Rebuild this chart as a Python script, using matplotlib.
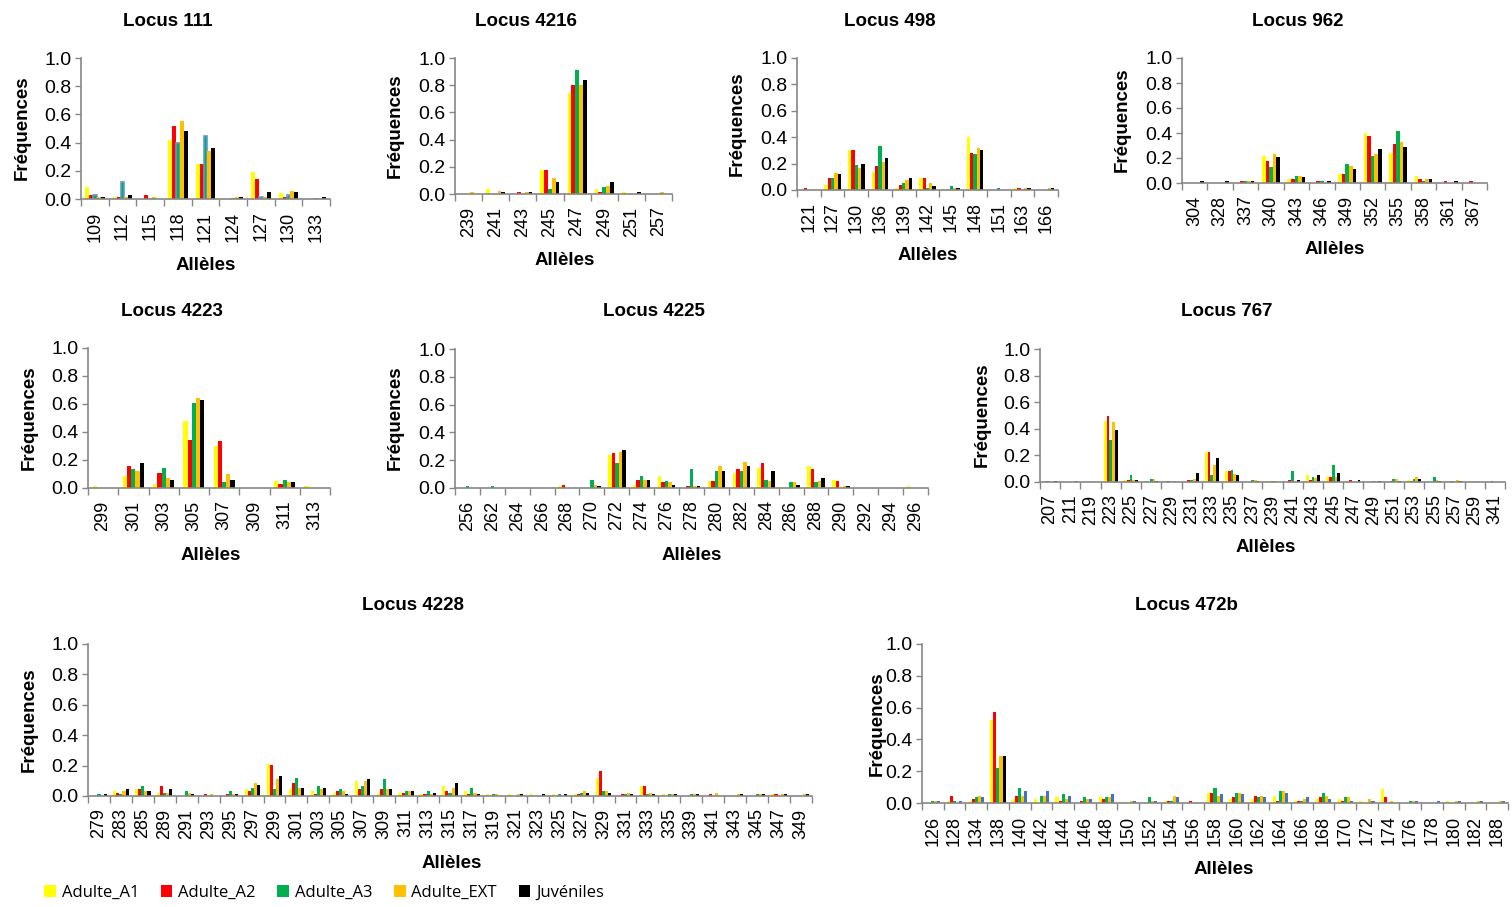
import numpy as np
import matplotlib
matplotlib.use("Agg")
import matplotlib.pyplot as plt
from matplotlib.patches import Patch
from matplotlib.ticker import FormatStrFormatter

# ---------------- data ----------------
series_names = ["Adulte_A1", "Adulte_A2", "Adulte_A3", "Adulte_EXT", "Juvéniles"]

l111_alleles = ["109", "112", "115", "118", "121", "124", "127", "130", "133"]
l111_a1 = [0.085, 0.012, 0, 0.42, 0.25, 0, 0.19, 0.04, 0]
l111_a2 = [0.025, 0.012, 0.025, 0.515, 0.25, 0, 0.145, 0.012, 0]
l111_a3 = [0.025, 0.12, 0, 0.40, 0.445, 0, 0.012, 0.025, 0]
l111_ext = [0.012, 0.012, 0.012, 0.55, 0.34, 0.012, 0.012, 0.06, 0]
l111_juv = [0.012, 0.025, 0, 0.48, 0.365, 0.012, 0.05, 0.05, 0.012]

l4216_alleles = ["239", "241", "243", "245", "247", "249", "251", "257"]
l4216_a1 = [0, 0.035, 0, 0.18, 0.74, 0.035, 0.012, 0]
l4216_a2 = [0, 0, 0.012, 0.18, 0.80, 0.012, 0, 0]
l4216_a3 = [0, 0, 0, 0.035, 0.91, 0.05, 0, 0]
l4216_ext = [0.012, 0.025, 0.012, 0.12, 0.80, 0.06, 0, 0.012]
l4216_juv = [0, 0.012, 0.012, 0.085, 0.84, 0.085, 0.012, 0]

l498_alleles = ["121", "127", "130", "136", "139", "142", "145", "148", "151", "163", "166"]
l498_a1 = [0, 0.04, 0.30, 0.14, 0.012, 0.09, 0, 0.405, 0, 0.012, 0]
l498_a2 = [0.012, 0.09, 0.30, 0.18, 0.04, 0.09, 0, 0.28, 0, 0.012, 0]
l498_a3 = [0, 0.09, 0.19, 0.33, 0.05, 0.012, 0.03, 0.27, 0.012, 0, 0]
l498_ext = [0, 0.13, 0.17, 0.215, 0.075, 0.05, 0.012, 0.32, 0, 0.012, 0.012]
l498_juv = [0, 0.12, 0.20, 0.24, 0.09, 0.03, 0.012, 0.305, 0, 0.012, 0.012]

l962_alleles = ["304", "328", "337", "340", "343", "346", "349", "352", "355", "358", "361", "367"]
l962_a1 = [0, 0, 0, 0.22, 0.03, 0, 0.07, 0.40, 0.24, 0.06, 0, 0]
l962_a2 = [0, 0, 0.015, 0.175, 0.03, 0.015, 0.07, 0.375, 0.31, 0.03, 0.015, 0.015]
l962_a3 = [0, 0, 0.015, 0.125, 0.06, 0.015, 0.15, 0.215, 0.415, 0.015, 0, 0]
l962_ext = [0, 0, 0.015, 0.23, 0.06, 0, 0.14, 0.23, 0.325, 0.03, 0, 0]
l962_juv = [0.015, 0.015, 0.015, 0.205, 0.045, 0.015, 0.11, 0.27, 0.285, 0.03, 0.015, 0]

l4223_alleles = ["299", "301", "303", "305", "307", "309", "311", "313"]
l4223_a1 = [0.012, 0.085, 0.025, 0.475, 0.30, 0, 0.05, 0.012]
l4223_a2 = [0, 0.16, 0.11, 0.345, 0.335, 0, 0.025, 0]
l4223_a3 = [0, 0.135, 0.145, 0.605, 0.04, 0, 0.06, 0]
l4223_ext = [0, 0.12, 0.07, 0.64, 0.10, 0.003, 0.04, 0]
l4223_juv = [0.003, 0.18, 0.06, 0.625, 0.06, 0, 0.04, 0.003]

l4225_alleles = ["256", "262", "264", "266", "268", "270", "272", "274", "276", "278",
                 "280", "282", "284", "286", "288", "290", "292", "294", "296"]
l4225_a1 = [0, 0, 0, 0, 0.012, 0, 0.24, 0.025, 0.085, 0, 0.05, 0.11, 0.145, 0, 0.155, 0.06, 0, 0, 0.012]
l4225_a2 = [0.003, 0.003, 0, 0, 0.025, 0.003, 0.25, 0.06, 0.04, 0.012, 0.05, 0.135, 0.18, 0.003, 0.135, 0.05, 0.003, 0.003, 0]
l4225_a3 = [0.015, 0.015, 0, 0, 0, 0.06, 0.18, 0.085, 0.05, 0.135, 0.12, 0.12, 0.06, 0.04, 0.04, 0, 0, 0, 0]
l4225_ext = [0, 0, 0, 0, 0.003, 0.025, 0.26, 0.06, 0.04, 0.012, 0.155, 0.19, 0.05, 0.04, 0.05, 0.012, 0, 0, 0]
l4225_juv = [0.003, 0.003, 0.003, 0.003, 0.003, 0.012, 0.275, 0.06, 0.025, 0.012, 0.12, 0.155, 0.12, 0.025, 0.07, 0.012, 0.003, 0.003, 0.003]

l767_alleles = ["207", "211", "219", "223", "225", "227", "229", "231", "233", "235", "237", "239",
                "241", "243", "245", "247", "249", "251", "253", "255", "257", "259", "341"]
l767_a1 = [0.005, 0, 0, 0.46, 0.012, 0.005, 0.005, 0, 0.225, 0.08, 0, 0.005, 0, 0.055, 0.04, 0.005, 0, 0, 0.012, 0, 0, 0.005, 0]
l767_a2 = [0.005, 0, 0, 0.50, 0.012, 0, 0.005, 0.012, 0.225, 0.08, 0, 0, 0.012, 0.012, 0.04, 0.012, 0, 0.005, 0.005, 0, 0.005, 0, 0.005]
l767_a3 = [0, 0, 0, 0.315, 0.055, 0.025, 0, 0.012, 0.05, 0.09, 0.012, 0.005, 0.08, 0.04, 0.13, 0, 0.005, 0.025, 0.025, 0.04, 0, 0, 0]
l767_ext = [0, 0, 0.005, 0.45, 0.012, 0.025, 0.005, 0.025, 0.13, 0.06, 0.012, 0.005, 0, 0.03, 0.04, 0, 0, 0.025, 0.04, 0.012, 0.012, 0.005, 0]
l767_juv = [0.005, 0.005, 0, 0.39, 0.012, 0.005, 0, 0.065, 0.18, 0.055, 0.005, 0, 0.012, 0.055, 0.065, 0.012, 0.005, 0.005, 0.025, 0.005, 0.005, 0, 0]

l4228_alleles = ["279", "283", "285", "289", "291", "293", "295", "297", "299", "301", "303",
                 "305", "307", "309", "311", "313", "315", "317", "319", "321", "323", "325",
                 "327", "329", "331", "333", "335", "339", "341", "343", "345", "347", "349"]
l4228_a1 = [0, 0.03, 0.045, 0.02, 0, 0, 0, 0.045, 0.21, 0.045, 0.03, 0.02, 0.10, 0.02, 0.02, 0.012, 0.065,
            0.03, 0.012, 0.012, 0.012, 0.012, 0.012, 0.12, 0, 0.065, 0.012, 0, 0, 0, 0, 0.012, 0]
l4228_a2 = [0, 0.02, 0.045, 0.065, 0, 0.012, 0.012, 0.03, 0.205, 0.085, 0.012, 0.03, 0.045, 0.045, 0.02, 0.012, 0.03,
            0.012, 0, 0, 0, 0, 0.012, 0.165, 0.012, 0.065, 0, 0, 0.012, 0, 0, 0.012, 0]
l4228_a3 = [0.012, 0.012, 0.065, 0.02, 0.03, 0, 0.03, 0.055, 0.045, 0.12, 0.065, 0.045, 0.065, 0.11, 0.03, 0.03, 0.02,
            0.05, 0.012, 0, 0, 0.012, 0.02, 0.03, 0.012, 0.012, 0.012, 0.012, 0, 0, 0.012, 0, 0]
l4228_ext = [0, 0.03, 0.03, 0.02, 0.02, 0.012, 0.012, 0.085, 0.11, 0.055, 0.045, 0.03, 0.10, 0.045, 0.03, 0.012, 0.05,
             0.02, 0.012, 0.012, 0, 0, 0.03, 0.03, 0.02, 0.02, 0.012, 0.012, 0.02, 0.012, 0.012, 0.012, 0.012]
l4228_juv = [0.012, 0.045, 0.03, 0.045, 0.012, 0, 0.012, 0.075, 0.13, 0.055, 0.055, 0.012, 0.11, 0.045, 0.03, 0.02, 0.085,
             0.012, 0, 0.012, 0.012, 0.012, 0.02, 0.02, 0.012, 0.012, 0.012, 0.012, 0, 0.012, 0.012, 0.012, 0.012]

l472b_alleles = ["126", "128", "134", "138", "140", "142", "144", "146", "148", "150", "152", "154", "156", "158",
                 "160", "162", "164", "166", "168", "170", "172", "174", "176", "178", "180", "182", "188"]
l472b_a1 = [0, 0.012, 0.012, 0.52, 0.025, 0.025, 0.035, 0, 0.035, 0, 0, 0.012, 0, 0.065, 0.025, 0.025, 0.045,
            0.012, 0.025, 0.025, 0.012, 0.085, 0, 0, 0.012, 0, 0]
l472b_a2 = [0, 0.045, 0.025, 0.57, 0.045, 0, 0.012, 0.012, 0.025, 0, 0, 0.012, 0.012, 0.065, 0.035, 0.045, 0.012,
            0.012, 0.035, 0.012, 0, 0.035, 0, 0, 0, 0, 0]
l472b_a3 = [0.012, 0.012, 0.035, 0.22, 0.095, 0.045, 0.055, 0.035, 0.035, 0, 0.035, 0.012, 0, 0.095, 0.065, 0.035, 0.075,
            0.012, 0.065, 0.035, 0, 0, 0.012, 0, 0, 0, 0]
l472b_ext = [0.012, 0, 0.045, 0.295, 0.045, 0.045, 0.025, 0.025, 0.035, 0.012, 0.012, 0.045, 0, 0.045, 0.065, 0.045, 0.075,
             0.025, 0.045, 0.035, 0.025, 0.012, 0.012, 0, 0.012, 0.012, 0.012]
l472b_juv = [0.012, 0.012, 0.035, 0.295, 0.075, 0.075, 0.045, 0.025, 0.055, 0.012, 0.012, 0.035, 0, 0.055, 0.055, 0.035, 0.065,
             0.035, 0.025, 0.012, 0.012, 0, 0.012, 0.012, 0.012, 0.012, 0.012]

# ---------------- styling / layout ----------------
W, H = 1512, 907
COLORS = ["#FFFF00", "#FF0000", "#00B050", "#FFC000", "#000000"]
GRAY = "#868686"
BLUE = "#4472C4"
FONT = "Liberation Sans"

panels = [
    # title, alleles, series, axes px (x0, y0, x1, y1), title px, xlabel px, ylabel px
    ("Locus 111", l111_alleles, [l111_a1, l111_a2, l111_a3, l111_ext, l111_juv],
     (81, 58, 330, 199), (168, 21), (206, 266), (22, 128)),
    ("Locus 4216", l4216_alleles, [l4216_a1, l4216_a2, l4216_a3, l4216_ext, l4216_juv],
     (455, 58, 672, 194), (526, 21), (565, 260), (395, 126)),
    ("Locus 498", l498_alleles, [l498_a1, l498_a2, l498_a3, l498_ext, l498_juv],
     (797, 58, 1058, 190), (890, 21), (928, 256), (737, 124)),
    ("Locus 962", l962_alleles, [l962_a1, l962_a2, l962_a3, l962_ext, l962_juv],
     (1182, 58, 1487, 183), (1298, 21), (1335, 249), (1122, 120)),
    ("Locus 4223", l4223_alleles, [l4223_a1, l4223_a2, l4223_a3, l4223_ext, l4223_juv],
     (88, 348, 330, 488), (172, 311), (211, 555), (29, 418)),
    ("Locus 4225", l4225_alleles, [l4225_a1, l4225_a2, l4225_a3, l4225_ext, l4225_juv],
     (455, 349, 928, 488), (654, 312), (692, 555), (395, 418)),
    ("Locus 767", l767_alleles, [l767_a1, l767_a2, l767_a3, l767_ext, l767_juv],
     (1040, 349, 1505, 482), (1227, 311), (1266, 548), (982, 415)),
    ("Locus 4228", l4228_alleles, [l4228_a1, l4228_a2, l4228_a3, l4228_ext, l4228_juv],
     (88, 644, 812, 796), (413, 606), (452, 863), (29, 720)),
    ("Locus 472b", l472b_alleles, [l472b_a1, l472b_a2, l472b_a3, l472b_ext, l472b_juv],
     (922, 644, 1508, 803), (1186, 606), (1224, 869), (877, 724)),
]

fig = plt.figure(figsize=(W / 100, H / 100), dpi=100)

BW = 0.14
for title, alleles, series, (x0, y0, x1, y1), tpos, xlpos, ylpos in panels:
    ax = fig.add_axes([x0 / W, 1 - y1 / H, (x1 - x0) / W, (y1 - y0) / H])
    n = len(alleles)
    x = np.arange(n)
    for i, vals in enumerate(series):
        col = [COLORS[i]] * n
        kw = dict(linewidth=0)
        if title == "Locus 111" and i == 2:
            kw = dict(edgecolor="#5B9BD5", linewidth=1.2)
        if title == "Locus 472b" and i == 4:
            col = [COLORS[4] if a == "138" else BLUE for a in alleles]
        ax.bar(x + (i - 2) * BW, vals, width=BW, color=col, **kw)

    ax.set_xlim(-0.5, n - 0.5)
    ax.set_ylim(0, 1.0)
    for s in ("top", "right"):
        ax.spines[s].set_visible(False)
    for s in ("left", "bottom"):
        ax.spines[s].set_color(GRAY)
        ax.spines[s].set_linewidth(1.2)

    ax.set_yticks(np.arange(0, 1.01, 0.2))
    ax.yaxis.set_major_formatter(FormatStrFormatter("%.1f"))
    ax.tick_params(axis="y", length=4, width=1, color=GRAY, pad=3,
                   labelsize=14, labelcolor="black")
    for lab in ax.get_yticklabels():
        lab.set_fontfamily(FONT)

    ax.set_xticks(np.arange(-0.5, n, 1.0))
    ax.tick_params(axis="x", which="major", length=5, width=1, color=GRAY, labelbottom=False)
    ax.set_xticks(x, labels=alleles, minor=True)
    ax.tick_params(axis="x", which="minor", length=0, pad=9, labelsize=13,
                   labelrotation=90, labelcolor="black")
    for lab in ax.get_xticklabels(minor=True):
        lab.set_fontfamily(FONT)

    ax.set_xlabel("Allèles", fontsize=13.5, fontweight="bold", va="center", family=FONT)
    ax.xaxis.set_label_coords(xlpos[0] / W, 1 - xlpos[1] / H, transform=fig.transFigure)
    ax.set_ylabel("Fréquences", fontsize=13.5, fontweight="bold", va="center", family=FONT)
    ax.yaxis.set_label_coords(ylpos[0] / W, 1 - ylpos[1] / H, transform=fig.transFigure)

    fig.text(tpos[0] / W, 1 - tpos[1] / H, title, ha="center", va="center",
             fontsize=13.5, fontweight="bold", family=FONT)

handles = [Patch(facecolor=c, edgecolor="none") for c in COLORS]
fig.legend(handles, series_names, loc="center left", bbox_to_anchor=(44 / W, 14 / H),
           ncol=5, frameon=False, handlelength=0.7, handleheight=0.7, handletextpad=0.35,
           columnspacing=1.3, borderpad=0, borderaxespad=0,
           prop={"family": "Open Sans", "size": 12})

fig.savefig("out.png", dpi=100)
